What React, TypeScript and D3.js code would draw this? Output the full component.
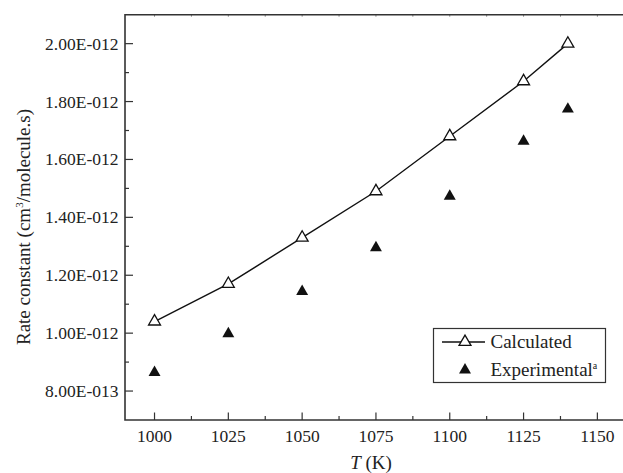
import React, { useEffect, useRef } from 'react';
import * as d3 from 'd3';

// Temperatures (K) and rate constants (cm3/molecule.s)
const temps = [1000, 1025, 1050, 1075, 1100, 1125, 1140];
const calculated = [1.04e-12, 1.17e-12, 1.33e-12, 1.49e-12, 1.68e-12, 1.87e-12, 2.0e-12];
const experimental = [0.864e-12, 0.998e-12, 1.144e-12, 1.295e-12, 1.473e-12, 1.663e-12, 1.774e-12];
const xTicks = [1000, 1025, 1050, 1075, 1100, 1125, 1150];
const yTicks = [0.8e-12, 1.0e-12, 1.2e-12, 1.4e-12, 1.6e-12, 1.8e-12, 2.0e-12];

const W = 623;
const H = 473;
const FONT = '"Liberation Serif", "Times New Roman", serif';
const AXIS = '#333';

const fmtSci = (v: number) => {
  const [m, e] = v.toExponential(2).split('e');
  const n = Math.abs(parseInt(e, 10));
  return `${m}E${parseInt(e, 10) < 0 ? '-' : '+'}${String(n).padStart(3, '0')}`;
};

const App: React.FC = () => {
  const ref = useRef<SVGSVGElement | null>(null);

  useEffect(() => {
    if (!ref.current) return;
    const svg = d3.select(ref.current);
    svg.selectAll('*').remove();

    const x = d3.scaleLinear().domain([990, 1160]).range([125, 626.9]);
    const y = d3.scaleLinear().domain([0.7e-12, 2.1e-12]).range([420, 14.7]);
    const [x0] = x.range();
    const [yb, yt] = y.range();

    const g = svg.append('g');

    // minor ticks halfway between majors
    const xMinor = xTicks.slice(0, -1).map((t, i) => (t + xTicks[i + 1]) / 2);
    const yMinor = [0.9e-12, 1.1e-12, 1.3e-12, 1.5e-12, 1.7e-12, 1.9e-12];

    // bottom axis ticks (inward)
    g.selectAll('.xmaj').data(xTicks).enter().append('line')
      .attr('x1', d => x(d)).attr('x2', d => x(d))
      .attr('y1', yb).attr('y2', yb - 7.5)
      .attr('stroke', AXIS).attr('stroke-width', 1.2);
    g.selectAll('.xmin').data(xMinor).enter().append('line')
      .attr('x1', d => x(d)).attr('x2', d => x(d))
      .attr('y1', yb).attr('y2', yb - 4)
      .attr('stroke', AXIS).attr('stroke-width', 1.2);

    // top axis tiny ticks
    g.selectAll('.xtop').data([...xTicks, ...xMinor]).enter().append('line')
      .attr('x1', d => x(d)).attr('x2', d => x(d))
      .attr('y1', yt).attr('y2', yt + 2)
      .attr('stroke', '#888').attr('stroke-width', 1);

    // left axis ticks (inward)
    g.selectAll('.ymaj').data(yTicks).enter().append('line')
      .attr('x1', x0).attr('x2', x0 + 8)
      .attr('y1', d => y(d)).attr('y2', d => y(d))
      .attr('stroke', AXIS).attr('stroke-width', 1.2);
    g.selectAll('.ymin').data(yMinor).enter().append('line')
      .attr('x1', x0).attr('x2', x0 + 4)
      .attr('y1', d => y(d)).attr('y2', d => y(d))
      .attr('stroke', AXIS).attr('stroke-width', 1.2);

    // frame
    g.append('path')
      .attr('d', `M${W},${yt}H${x0}V${yb}H${W}`)
      .attr('fill', 'none').attr('stroke', AXIS).attr('stroke-width', 1.6);

    // tick labels
    g.selectAll('.xl').data(xTicks).enter().append('text')
      .attr('x', d => x(d)).attr('y', 442)
      .attr('text-anchor', 'middle')
      .style('font-family', FONT).style('font-size', '17.5px').attr('fill', '#222')
      .text(d => String(d));
    g.selectAll('.yl').data(yTicks).enter().append('text')
      .attr('x', 118.5).attr('y', d => y(d)).attr('dy', '0.34em')
      .attr('text-anchor', 'end')
      .style('font-family', FONT).style('font-size', '17.5px').attr('fill', '#222')
      .text(d => fmtSci(d));

    // axis titles
    const xt = g.append('text')
      .attr('x', 371).attr('y', 469).attr('text-anchor', 'middle')
      .style('font-family', FONT).style('font-size', '19px').attr('fill', '#222');
    xt.append('tspan').style('font-style', 'italic').text('T');
    xt.append('tspan').text(' (K)');

    const yt2 = g.append('text')
      .attr('transform', `translate(30,227) rotate(-90)`)
      .attr('text-anchor', 'middle')
      .style('font-family', FONT).style('font-size', '19px').attr('fill', '#222');
    yt2.append('tspan').text('Rate constant (cm');
    yt2.append('tspan').attr('dy', -7).style('font-size', '11px').text('3');
    yt2.append('tspan').attr('dy', 7).text('/molecule.s)');

    const tri = d3.symbol().type(d3.symbolTriangle).size(62);

    // calculated line + open triangles
    const line = d3.line<number>()
      .x((_, i) => x(temps[i]))
      .y(d => y(d));
    g.append('path').datum(calculated)
      .attr('d', line).attr('fill', 'none').attr('stroke', '#111').attr('stroke-width', 1.4);
    g.selectAll('.calc').data(calculated).enter().append('path')
      .attr('d', tri)
      .attr('transform', (d, i) => `translate(${x(temps[i])},${y(d)})`)
      .attr('fill', '#fff').attr('stroke', '#111').attr('stroke-width', 1.3);

    // experimental filled triangles
    g.selectAll('.exp').data(experimental).enter().append('path')
      .attr('d', tri)
      .attr('transform', (d, i) => `translate(${x(temps[i])},${y(d)})`)
      .attr('fill', '#111');

    // legend
    const lg = g.append('g');
    lg.append('rect')
      .attr('x', 433.5).attr('y', 328.5).attr('width', 172).attr('height', 54)
      .attr('fill', '#fff').attr('stroke', AXIS).attr('stroke-width', 1.2);
    lg.append('line')
      .attr('x1', 442).attr('x2', 485).attr('y1', 342).attr('y2', 342)
      .attr('stroke', '#111').attr('stroke-width', 1.4);
    lg.append('path').attr('d', tri).attr('transform', 'translate(465,342)')
      .attr('fill', '#fff').attr('stroke', '#111').attr('stroke-width', 1.3);
    lg.append('path').attr('d', tri).attr('transform', 'translate(465,370)')
      .attr('fill', '#111');
    lg.append('text').attr('x', 490.5).attr('y', 342).attr('dy', '0.34em')
      .style('font-family', FONT).style('font-size', '19px').attr('fill', '#222')
      .text('Calculated');
    const et = lg.append('text').attr('x', 490.5).attr('y', 370).attr('dy', '0.34em')
      .style('font-family', FONT).style('font-size', '19px').attr('fill', '#222');
    et.append('tspan').text('Experimental');
    et.append('tspan').attr('dy', -7).style('font-size', '10px').text('a');
  }, []);

  return (
    <svg
      ref={ref}
      width={W}
      height={H}
      style={{ position: 'absolute', left: 0, top: 0, background: '#fff' }}
    />
  );
};

export default App;
